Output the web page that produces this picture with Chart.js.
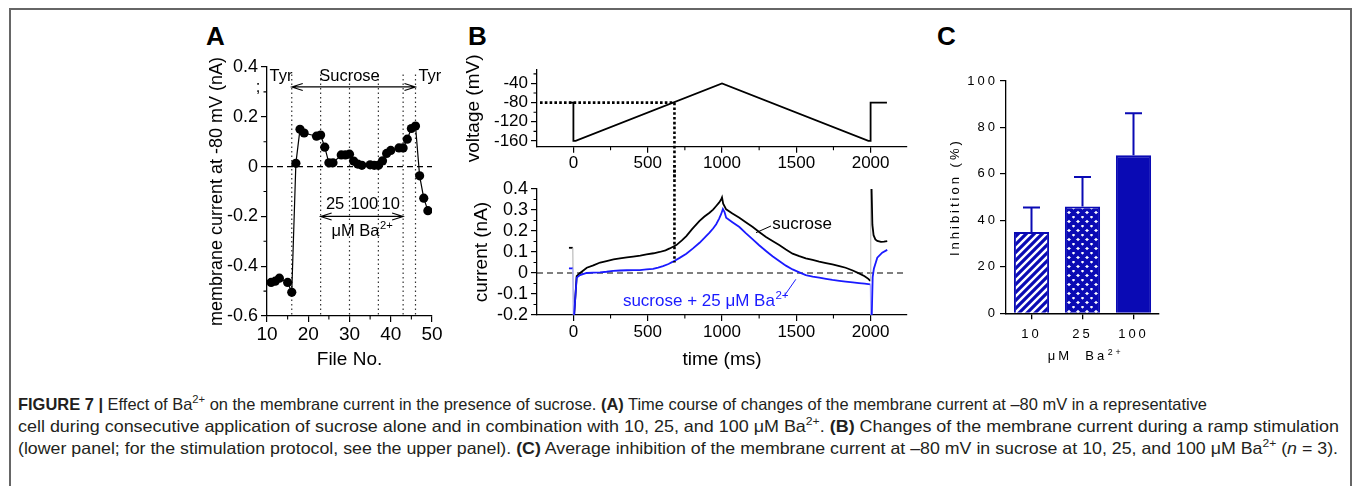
<!DOCTYPE html>
<html>
<head>
<meta charset="utf-8">
<script src="https://cdn.jsdelivr.net/npm/chart.js@4.4.1/dist/chart.umd.min.js"></script>
<style>
  html, body { margin: 0; padding: 0; background: #fff; }
  body { width: 1355px; height: 486px; position: relative; overflow: hidden; font-family: "Liberation Sans", Arial, sans-serif; }
  .frame { position: absolute; left: 9px; top: 8px; width: 1343px; height: 500px; border: 2px solid #666; border-bottom: none; box-sizing: border-box; }
  canvas { position: absolute; }
  .panel { position: absolute; font: bold 26px "Liberation Sans", Arial, sans-serif; line-height: 26px; color: #000; }
  .cap { position: absolute; left: 18px; white-space: nowrap; font: 16.5px "Liberation Sans", Arial, sans-serif; line-height: 20px; color: #231f20; transform-origin: 0 0; }
  .cap sup { font-size: 68%; line-height: 0; vertical-align: 0.6em; }
</style>
</head>
<body>
<div class="frame"></div>
<div class="panel" style="left:206px;top:23px">A</div>
<div class="panel" style="left:468px;top:23px">B</div>
<div class="panel" style="left:937px;top:23px">C</div>

<canvas id="chartA" width="265" height="340" style="left:195px;top:40px"></canvas>
<canvas id="chartV" width="470" height="140" style="left:455px;top:40px"></canvas>
<canvas id="chartI" width="470" height="210" style="left:455px;top:165px"></canvas>
<canvas id="chartC" width="245" height="320" style="left:925px;top:55px"></canvas>

<div class="cap" id="cap1" style="top:394px"><b>FIGURE 7 |</b> Effect of Ba<sup>2+</sup> on the membrane current in the presence of sucrose. <b>(A)</b> Time course of changes of the membrane current at –80 mV in a representative</div>
<div class="cap" id="cap2" style="top:416px">cell during consecutive application of sucrose alone and in combination with 10, 25, and 100 μM Ba<sup>2+</sup>. <b>(B)</b> Changes of the membrane current during a ramp stimulation</div>
<div class="cap" id="cap3" style="top:438px">(lower panel; for the stimulation protocol, see the upper panel). <b>(C)</b> Average inhibition of the membrane current at –80 mV in sucrose at 10, 25, and 100 μM Ba<sup>2+</sup> (<i>n</i> = 3).</div>

<script>
// Panel A: current at -80 mV per file
const fileNo = [11, 12, 13, 15, 16, 17, 18, 19, 22, 23, 24, 25, 26, 28, 29, 30, 31, 32, 33, 35, 36, 37, 38, 39, 40, 42, 43, 44, 45, 46, 47, 48, 49];
const currentA = [-0.465, -0.46, -0.448, -0.465, -0.505, 0.013, 0.15, 0.135, 0.122, 0.127, 0.078, 0.015, 0.015, 0.047, 0.047, 0.05, 0.022, 0.01, 0.005, 0.007, 0.005, 0.005, 0.023, 0.053, 0.065, 0.075, 0.075, 0.11, 0.153, 0.163, -0.037, -0.127, -0.177];
const solutionChanges = [16, 23, 30, 37, 43, 46];
const baLabels = ['25', '100', '10'];
const baLabelFiles = [26.5, 33.6, 40];
const fileTicks = [10, 20, 30, 40, 50];
const fileMinor = [15, 25, 35, 45];
const currentTicksA = [-0.6, -0.4, -0.2, 0, 0.2, 0.4];
const currentMinorA = [-0.5, -0.3, -0.1, 0.1, 0.3];

// Panel B: ramp protocol and currents, [time ms, value]
const rampProtocol = [[-30, -80], [0, -80], [0, -160], [15, -160], [1000, -40], [1985, -160], [2000, -160], [2000, -80], [2110, -80]];
const sucroseTrace = [[-30, 0.12], [-4, 0.12], [0, -0.2], [5, -0.2], [22, -0.015], [45, 0.0], [90, 0.025], [134, 0.036], [180, 0.05], [223, 0.057], [270, 0.065], [313, 0.07], [360, 0.074], [402, 0.078], [450, 0.083], [492, 0.089], [540, 0.094], [581, 0.1], [620, 0.108], [648, 0.117], [693, 0.133], [730, 0.155], [760, 0.176], [800, 0.21], [849, 0.248], [880, 0.268], [916, 0.287], [940, 0.302], [961, 0.319], [980, 0.335], [994, 0.35], [1000, 0.36], [1008, 0.33], [1028, 0.303], [1070, 0.283], [1117, 0.263], [1160, 0.242], [1207, 0.219], [1250, 0.195], [1296, 0.171], [1340, 0.152], [1385, 0.133], [1430, 0.112], [1475, 0.092], [1520, 0.08], [1564, 0.07], [1610, 0.062], [1654, 0.054], [1700, 0.047], [1743, 0.041], [1790, 0.033], [1832, 0.025], [1880, 0.012], [1922, -0.002], [1960, -0.015], [1985, -0.028], [1998, -0.038], [2001, 0.42], [2006, 0.42], [2012, 0.23], [2020, 0.18], [2032, 0.16], [2045, 0.153], [2070, 0.148], [2090, 0.149], [2112, 0.152]];
const bariumTrace = [[-30, 0.022], [-4, 0.022], [0, -0.2], [5, -0.2], [22, -0.022], [45, -0.01], [89, 0.0], [134, 0.002], [179, 0.003], [223, 0.006], [268, 0.01], [313, 0.012], [358, 0.013], [402, 0.014], [447, 0.014], [492, 0.017], [536, 0.02], [570, 0.026], [603, 0.033], [640, 0.043], [670, 0.054], [715, 0.072], [760, 0.092], [805, 0.117], [849, 0.144], [885, 0.17], [916, 0.192], [940, 0.212], [961, 0.232], [980, 0.258], [994, 0.28], [1006, 0.305], [1017, 0.29], [1028, 0.263], [1070, 0.242], [1117, 0.219], [1160, 0.19], [1207, 0.16], [1250, 0.132], [1296, 0.105], [1340, 0.08], [1385, 0.057], [1430, 0.035], [1475, 0.017], [1520, 0.003], [1564, -0.01], [1610, -0.017], [1654, -0.022], [1700, -0.028], [1743, -0.033], [1790, -0.037], [1832, -0.041], [1880, -0.045], [1922, -0.048], [1960, -0.051], [1998, -0.054], [2001, -0.2], [2008, -0.2], [2014, -0.02], [2022, 0.02], [2045, 0.073], [2078, 0.097], [2112, 0.11]];
const crossTime = 680;
const crossCurrent = 0.05;
const timeTicks = [0, 500, 1000, 1500, 2000];
const timeMinor = [250, 750, 1250, 1750];
const voltageTicks = [-160, -120, -80, -40];
const voltageMinor = [-140, -100, -60, -20];
const currentTicksB = [-0.2, -0.1, 0, 0.1, 0.2, 0.3, 0.4];
const currentMinorB = [-0.15, -0.05, 0.05, 0.15, 0.25, 0.35];

// Panel C: inhibition (%)
const baConc = ['10', '25', '100'];
const inhibitionMean = [35, 46, 68];
const inhibitionSem = [10.5, 12.7, 18.1];
const inhibitionTicks = [0, 20, 40, 60, 80, 100];

const FONT = '"Liberation Sans", Arial, Helvetica, sans-serif';
const BAR_BLUE = '#0a0ab4';
const TRACE_BLUE = '#1a1aff';

Chart.defaults.font.family = FONT;
Chart.defaults.color = '#000';

function fmtNum(v) {
  if (v === 0) return '0';
  return Math.abs(v) < 1 ? v.toFixed(1) : String(v);
}

function linearAxis(cfg) {
  return {
    type: 'linear',
    min: cfg.min,
    max: cfg.max,
    afterBuildTicks: (s) => { s.ticks = cfg.ticks.map((v) => ({ value: v })); },
    afterFit: (s) => { if (s.isHorizontal()) s.height = cfg.box; else s.width = cfg.box; },
    grid: { drawOnChartArea: false, drawTicks: true, tickLength: 6, color: '#000', lineWidth: 1.2 },
    border: { display: true, color: '#000', width: 1.3 },
    ticks: { color: '#000', padding: cfg.pad, font: { family: FONT, size: cfg.size }, callback: cfg.fmt || fmtNum, maxRotation: 0, autoSkip: false },
    title: cfg.title
      ? { display: true, text: cfg.title, color: '#000', font: { family: FONT, size: cfg.titleSize }, padding: cfg.titlePad }
      : { display: false },
  };
}

function drawMinor(chart, id, values, len) {
  const s = chart.scales[id];
  const ctx = chart.ctx;
  ctx.save();
  ctx.strokeStyle = '#000';
  ctx.lineWidth = 1.1;
  ctx.beginPath();
  values.forEach((v) => {
    const p = s.getPixelForValue(v);
    if (s.isHorizontal()) {
      ctx.moveTo(p, s.top);
      ctx.lineTo(p, s.top + len);
    } else {
      ctx.moveTo(s.right - len, p);
      ctx.lineTo(s.right, p);
    }
  });
  ctx.stroke();
  ctx.restore();
}

function drawArrow(ctx, x1, x2, y) {
  ctx.beginPath();
  ctx.moveTo(x1, y);
  ctx.lineTo(x2, y);
  ctx.moveTo(x1 + 11, y - 3.5);
  ctx.lineTo(x1, y);
  ctx.lineTo(x1 + 11, y + 3.5);
  ctx.moveTo(x2 - 11, y - 3.5);
  ctx.lineTo(x2, y);
  ctx.lineTo(x2 - 11, y + 3.5);
  ctx.stroke();
}

function drawSup(ctx, x, y, base, sup, size, align) {
  ctx.textBaseline = 'alphabetic';
  ctx.textAlign = 'left';
  ctx.font = `${size}px ${FONT}`;
  const w1 = ctx.measureText(base).width;
  ctx.font = `${size * 0.68}px ${FONT}`;
  const w2 = ctx.measureText(sup).width;
  const x0 = align === 'center' ? x - (w1 + w2) / 2 : x;
  ctx.font = `${size}px ${FONT}`;
  ctx.fillText(base, x0, y);
  ctx.font = `${size * 0.68}px ${FONT}`;
  ctx.fillText(sup, x0 + w1 + 0.5, y - size * 0.42);
}

function dashedZero(chart, yId) {
  const { ctx, chartArea } = chart;
  const y = chart.scales[yId].getPixelForValue(0);
  ctx.save();
  ctx.strokeStyle = '#000';
  ctx.lineWidth = 1.1;
  ctx.setLineDash([6, 4]);
  ctx.beginPath();
  ctx.moveTo(chartArea.left, y);
  ctx.lineTo(chartArea.right, y);
  ctx.stroke();
  ctx.restore();
}

// ---------- Panel A ----------
const panelAPlugin = {
  id: 'panelA',
  beforeDatasetsDraw(chart) {
    const { ctx, scales: { x, y } } = chart;
    dashedZero(chart, 'y');
    ctx.save();
    ctx.strokeStyle = '#333';
    ctx.lineWidth = 1.2;
    ctx.setLineDash([1.5, 3]);
    solutionChanges.forEach((f) => {
      const px = x.getPixelForValue(f);
      ctx.beginPath();
      ctx.moveTo(px, y.getPixelForValue(0.37));
      ctx.lineTo(px, y.getPixelForValue(-0.6));
      ctx.stroke();
    });
    ctx.restore();
  },
  afterDraw(chart) {
    const { ctx, scales: { x, y } } = chart;
    drawMinor(chart, 'x', fileMinor, 3.5);
    drawMinor(chart, 'y', currentMinorA, 3.5);
    ctx.save();
    ctx.strokeStyle = '#000';
    ctx.fillStyle = '#000';
    ctx.lineWidth = 1.1;
    drawArrow(ctx, x.getPixelForValue(16), x.getPixelForValue(46), y.getPixelForValue(0.32));
    drawArrow(ctx, x.getPixelForValue(23), x.getPixelForValue(43), y.getPixelForValue(-0.2));
    ctx.font = `16.5px ${FONT}`;
    ctx.textBaseline = 'alphabetic';
    ctx.textAlign = 'center';
    ctx.fillText('Sucrose', x.getPixelForValue(30), y.getPixelForValue(0.345));
    ctx.textAlign = 'left';
    ctx.fillText('Tyr', x.getPixelForValue(10.6), y.getPixelForValue(0.345));
    ctx.fillText('Tyr', x.getPixelForValue(46.7), y.getPixelForValue(0.345));
    ctx.textAlign = 'center';
    baLabels.forEach((t, i) => ctx.fillText(t, x.getPixelForValue(baLabelFiles[i]), y.getPixelForValue(-0.17)));
    ctx.fillText(';', x.left - 9, y.getPixelForValue(0.3));
    drawSup(ctx, x.getPixelForValue(33), y.getPixelForValue(-0.28), 'μM Ba', '2+', 16.5, 'center');
    ctx.restore();
  },
};

new Chart(document.getElementById('chartA'), {
  type: 'scatter',
  data: {
    datasets: [{
      data: fileNo.map((f, i) => ({ x: f, y: currentA[i] })),
      showLine: true,
      borderColor: '#000',
      borderWidth: 1.2,
      pointRadius: 4.6,
      pointBackgroundColor: '#000',
      pointBorderWidth: 0,
    }],
  },
  options: {
    responsive: false,
    animation: false,
    devicePixelRatio: 1,
    layout: { padding: { top: 27, right: 28, left: 0, bottom: 0 } },
    plugins: { legend: { display: false }, tooltip: { enabled: false } },
    scales: {
      x: linearAxis({ min: 10, max: 50, ticks: fileTicks, box: 64, size: 19, pad: 1, title: 'File No.', titleSize: 19, titlePad: { top: 0, bottom: 8.6 } }),
      y: linearAxis({ min: -0.6, max: 0.4, ticks: currentTicksA, box: 72, size: 18, pad: 3, title: 'membrane current at -80 mV (nA)', titleSize: 18, titlePad: { top: 11.2, bottom: 0 } }),
    },
  },
  plugins: [panelAPlugin],
});

// ---------- Panel B, voltage protocol ----------
const voltagePlugin = {
  id: 'voltage',
  afterDraw(chart) {
    const { ctx, scales: { x, y } } = chart;
    drawMinor(chart, 'x', timeMinor, 3.5);
    drawMinor(chart, 'y', voltageMinor, 3.5);
    const px = x.getPixelForValue(crossTime);
    const py = y.getPixelForValue(-80);
    ctx.save();
    ctx.strokeStyle = '#000';
    ctx.lineWidth = 2.6;
    ctx.setLineDash([2.6, 2.2]);
    ctx.beginPath();
    ctx.moveTo(x.left + 3, py);
    ctx.lineTo(px, py);
    ctx.moveTo(px, py);
    ctx.lineTo(px, chart.height);
    ctx.stroke();
    ctx.restore();
  },
};

new Chart(document.getElementById('chartV'), {
  type: 'line',
  data: {
    datasets: [{
      data: rampProtocol.map(([t, v]) => ({ x: t, y: v })),
      borderColor: '#000',
      borderWidth: 1.8,
      pointRadius: 0,
      tension: 0,
    }],
  },
  options: {
    responsive: false,
    animation: false,
    devicePixelRatio: 1,
    layout: { padding: { top: 30, right: 18, left: 0, bottom: 0 } },
    plugins: { legend: { display: false }, tooltip: { enabled: false } },
    scales: {
      x: linearAxis({ min: -245, max: 2245, ticks: timeTicks, box: 33.3, size: 17, pad: 0, fmt: (v) => String(v) }),
      y: linearAxis({ min: -172, max: -12, ticks: voltageTicks, box: 82, size: 17, pad: 3, fmt: (v) => String(v), title: 'voltage (mV)', titleSize: 19, titlePad: { top: 7.6, bottom: 0 } }),
    },
  },
  plugins: [voltagePlugin],
});

// ---------- Panel B, currents ----------
const currentPlugin = {
  id: 'current',
  beforeDatasetsDraw(chart) {
    dashedZero(chart, 'y');
  },
  afterDraw(chart) {
    const { ctx, scales: { x, y } } = chart;
    drawMinor(chart, 'x', timeMinor, 3.5);
    drawMinor(chart, 'y', currentMinorB, 3.5);
    const px = x.getPixelForValue(crossTime);
    ctx.save();
    ctx.strokeStyle = '#000';
    ctx.lineWidth = 2.6;
    ctx.setLineDash([2.6, 2.2]);
    ctx.beginPath();
    ctx.moveTo(px, 0);
    ctx.lineTo(px, y.getPixelForValue(crossCurrent));
    ctx.stroke();
    ctx.setLineDash([]);
    ctx.lineWidth = 1;
    ctx.beginPath();
    ctx.moveTo(x.getPixelForValue(1229), y.getPixelForValue(0.192));
    ctx.lineTo(x.getPixelForValue(1330), y.getPixelForValue(0.224));
    ctx.stroke();
    ctx.strokeStyle = TRACE_BLUE;
    ctx.beginPath();
    ctx.moveTo(x.getPixelForValue(1418), y.getPixelForValue(-0.11));
    ctx.lineTo(x.getPixelForValue(1497), y.getPixelForValue(-0.03));
    ctx.stroke();
    ctx.fillStyle = '#000';
    ctx.font = `17px ${FONT}`;
    ctx.textAlign = 'left';
    ctx.textBaseline = 'alphabetic';
    ctx.fillText('sucrose', x.getPixelForValue(1339), y.getPixelForValue(0.21));
    ctx.fillStyle = TRACE_BLUE;
    drawSup(ctx, x.getPixelForValue(333), y.getPixelForValue(-0.157), 'sucrose + 25 μM Ba', '2+', 17, 'left');
    ctx.restore();
  },
};

const spike = (color) => (c) => (c.p1.parsed.x - c.p0.parsed.x < 6 ? color : undefined);

new Chart(document.getElementById('chartI'), {
  type: 'line',
  data: {
    datasets: [
      {
        data: bariumTrace.map(([t, v]) => ({ x: t, y: v })),
        borderColor: TRACE_BLUE,
        borderWidth: 1.8,
        pointRadius: 0,
        segment: { borderColor: spike('#a9a9ff'), borderWidth: (c) => (c.p1.parsed.x - c.p0.parsed.x < 6 ? 1.1 : undefined) },
      },
      {
        data: sucroseTrace.map(([t, v]) => ({ x: t, y: v })),
        borderColor: '#000',
        borderWidth: 1.8,
        pointRadius: 0,
        segment: { borderColor: spike('#b5b5b5'), borderWidth: (c) => (c.p1.parsed.x - c.p0.parsed.x < 6 ? 1.1 : undefined) },
      },
    ],
  },
  options: {
    responsive: false,
    animation: false,
    devicePixelRatio: 1,
    layout: { padding: { top: 24, right: 18, left: 0, bottom: 0 } },
    plugins: { legend: { display: false }, tooltip: { enabled: false } },
    scales: {
      x: linearAxis({ min: -245, max: 2245, ticks: timeTicks, box: 60, size: 17, pad: 1, fmt: (v) => String(v), title: 'time (ms)', titleSize: 19, titlePad: { top: 0, bottom: 3.6 } }),
      y: linearAxis({ min: -0.2, max: 0.4, ticks: currentTicksB, box: 82, size: 18, pad: 3, title: 'current (nA)', titleSize: 19, titlePad: { top: 15.6, bottom: 0 } }),
    },
  },
  plugins: [currentPlugin],
});

// ---------- Panel C ----------
function makeStripes() {
  const c = document.createElement('canvas');
  c.width = c.height = 8;
  const g = c.getContext('2d');
  g.fillStyle = '#fff';
  g.fillRect(0, 0, 8, 8);
  g.strokeStyle = BAR_BLUE;
  g.lineWidth = 3.2;
  g.beginPath();
  g.moveTo(-2, 10); g.lineTo(10, -2);
  g.moveTo(-2, 2); g.lineTo(2, -2);
  g.moveTo(6, 10); g.lineTo(10, 6);
  g.stroke();
  return c;
}

function makeHatch() {
  const n = 9;
  const c = document.createElement('canvas');
  c.width = c.height = n;
  const g = c.getContext('2d');
  g.fillStyle = '#fff';
  g.fillRect(0, 0, n, n);
  g.strokeStyle = BAR_BLUE;
  g.lineWidth = 4;
  g.beginPath();
  g.moveTo(-2, n + 2); g.lineTo(n + 2, -2);
  g.moveTo(-2, 2); g.lineTo(2, -2);
  g.moveTo(n - 2, n + 2); g.lineTo(n + 2, n - 2);
  g.moveTo(-2, -2); g.lineTo(n + 2, n + 2);
  g.moveTo(-2, n - 2); g.lineTo(2, n + 2);
  g.moveTo(n - 2, -2); g.lineTo(n + 2, 2);
  g.stroke();
  return c;
}

const ctxC = document.getElementById('chartC').getContext('2d');
const stripeFill = ctxC.createPattern(makeStripes(), 'repeat');
const hatchFill = ctxC.createPattern(makeHatch(), 'repeat');

const panelCPlugin = {
  id: 'panelC',
  beforeDraw(chart) {
    chart.ctx.letterSpacing = '3px';
  },
  afterDatasetsDraw(chart) {
    const { ctx, scales: { y } } = chart;
    const meta = chart.getDatasetMeta(0);
    ctx.save();
    ctx.strokeStyle = BAR_BLUE;
    ctx.lineWidth = 2;
    meta.data.forEach((bar, i) => {
      const top = y.getPixelForValue(inhibitionMean[i]);
      const end = y.getPixelForValue(inhibitionMean[i] + inhibitionSem[i]);
      ctx.beginPath();
      ctx.moveTo(bar.x, top);
      ctx.lineTo(bar.x, end);
      ctx.moveTo(bar.x - 8.5, end);
      ctx.lineTo(bar.x + 8.5, end);
      ctx.stroke();
    });
    ctx.restore();
  },
  afterDraw(chart) {
    const { ctx, chartArea } = chart;
    ctx.save();
    ctx.fillStyle = '#000';
    drawSup(ctx, (chartArea.left + chartArea.right) / 2 + 3, 305, 'μM  Ba', '2+', 13, 'center');
    ctx.restore();
  },
};

new Chart(ctxC, {
  type: 'bar',
  data: {
    labels: baConc,
    datasets: [{
      data: inhibitionMean,
      backgroundColor: [stripeFill, hatchFill, BAR_BLUE],
      borderColor: BAR_BLUE,
      borderWidth: 2,
      categoryPercentage: 1,
      barPercentage: 0.69,
    }],
  },
  options: {
    responsive: false,
    animation: false,
    devicePixelRatio: 1,
    layout: { padding: { top: 26, right: 11, left: 0, bottom: 0 } },
    plugins: { legend: { display: false }, tooltip: { enabled: false } },
    scales: {
      x: {
        type: 'category',
        afterFit: (s) => { s.height = 61.7; },
        grid: { drawOnChartArea: false, drawTicks: true, tickLength: 6, color: '#000', lineWidth: 1.3, offset: false },
        border: { display: true, color: '#000', width: 1.5 },
        ticks: { color: '#000', padding: 7, font: { family: FONT, size: 13 } },
      },
      y: linearAxis({ min: 0, max: 100, ticks: inhibitionTicks, box: 81, size: 13, pad: 2, fmt: (v) => String(v), title: 'Inhibition (%)', titleSize: 13, titlePad: { top: 22.2, bottom: 0 } }),
    },
  },
  plugins: [panelCPlugin],
});

// caption lines are set in a condensed face in the original, fit them to their widths
const capTargets = { cap1: 1189, cap2: 1321, cap3: 1320 };
Object.entries(capTargets).forEach(([id, target]) => {
  const el = document.getElementById(id);
  const w = el.getBoundingClientRect().width;
  el.style.transform = `scaleX(${target / w})`;
});
</script>
</body>
</html>
